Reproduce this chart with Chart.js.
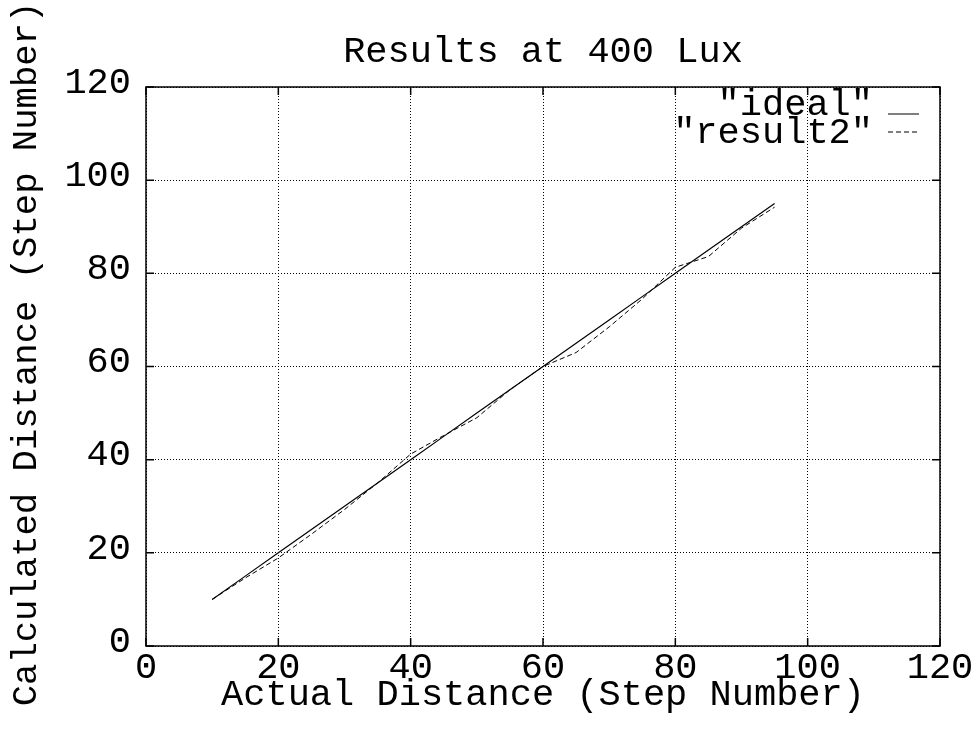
<!DOCTYPE html>
<html>
<head>
<meta charset="utf-8">
<script src="https://cdn.jsdelivr.net/npm/chart.js@4/dist/chart.umd.min.js"></script>
<style>
  html, body { margin: 0; padding: 0; background: #ffffff; }
  #wrap { width: 975px; height: 738px; }
</style>
</head>
<body>
<div id="wrap"><canvas id="c" width="975" height="738"></canvas></div>
<script>
// Step positions at which the distance was measured
const steps = [10, 15, 20, 25, 30, 35, 40, 45, 50, 55, 60, 65, 70, 75, 80, 85, 90, 95];
// Ideal calculated distance (equal to the actual distance)
const idealValues = [10, 15, 20, 25, 30, 35, 40, 45, 50, 55, 60, 65, 70, 75, 80, 85, 90, 95];
// Calculated distance from run 2
const result2Values = [10, 14.6, 18.9, 24, 29.3, 35, 41.2, 45.2, 49, 55, 60, 63, 68.5, 74.5, 81.3, 83.6, 89.7, 94.2];
// Axis tick values
const xTicks = [0, 20, 40, 60, 80, 100, 120];
const yTicks = [0, 20, 40, 60, 80, 100, 120];

const chartTitle = 'Results at 400 Lux';
const xTitle = 'Actual Distance (Step Number)';
const yTitle = 'Calculated Distance (Step Number)';
const seriesLabels = ['"ideal"', '"result2"'];

const FONT = '"Liberation Mono", "Courier New", monospace';
const FONT_SIZE = 37;

const toPoints = (xs, ys) => xs.map((x, i) => ({ x: x, y: ys[i] }));

// Frame, inward tick marks, titles and the key
const decorations = {
  id: 'decorations',
  afterDraw(chart) {
    const ctx = chart.ctx;
    const a = chart.chartArea;
    const xs = chart.scales.x, ys = chart.scales.y;
    ctx.save();
    ctx.strokeStyle = '#000';
    ctx.lineWidth = 1.5;
    ctx.strokeRect(a.left, a.top, a.right - a.left, a.bottom - a.top);

    const tl = 8;
    ctx.beginPath();
    xTicks.forEach(v => {
      const px = xs.getPixelForValue(v);
      ctx.moveTo(px, a.bottom); ctx.lineTo(px, a.bottom - tl);
      ctx.moveTo(px, a.top); ctx.lineTo(px, a.top + tl);
    });
    yTicks.forEach(v => {
      const py = ys.getPixelForValue(v);
      ctx.moveTo(a.left, py); ctx.lineTo(a.left + tl, py);
      ctx.moveTo(a.right, py); ctx.lineTo(a.right - tl, py);
    });
    ctx.stroke();

    ctx.fillStyle = '#000';
    ctx.font = FONT_SIZE + 'px ' + FONT;
    ctx.textBaseline = 'alphabetic';
    ctx.textAlign = 'center';
    const cx = (a.left + a.right) / 2;
    ctx.fillText(chartTitle, cx, 62);
    ctx.fillText(xTitle, cx, 705);

    ctx.save();
    ctx.font = '35.6px ' + FONT;
    ctx.translate(36, 354);
    ctx.rotate(-Math.PI / 2);
    ctx.fillText(yTitle, 0, 0);
    ctx.restore();

    // key: right-aligned labels followed by a line sample
    const textRight = a.right - 67;
    const rows = [
      { textY: 115, lineY: 114 },
      { textY: 143, lineY: 132 }
    ];
    chart.data.datasets.forEach((ds, i) => {
      const r = rows[i];
      ctx.textAlign = 'right';
      ctx.fillText(ds.label, textRight, r.textY);
      ctx.save();
      ctx.strokeStyle = ds.borderColor;
      ctx.lineWidth = 1;
      ctx.setLineDash(ds.borderDash || []);
      ctx.beginPath();
      ctx.moveTo(textRight + 15, r.lineY);
      ctx.lineTo(textRight + 46, r.lineY);
      ctx.stroke();
      ctx.restore();
    });
    ctx.restore();
  }
};

new Chart(document.getElementById('c'), {
  type: 'line',
  data: {
    datasets: [
      {
        label: seriesLabels[0],
        data: toPoints(steps, idealValues),
        borderColor: '#000',
        borderWidth: 1.2,
        pointRadius: 0,
        tension: 0,
        fill: false
      },
      {
        label: seriesLabels[1],
        data: toPoints(steps, result2Values),
        borderColor: '#000',
        borderWidth: 1,
        borderDash: [5, 3],
        pointRadius: 0,
        tension: 0,
        fill: false
      }
    ]
  },
  options: {
    responsive: false,
    animation: false,
    devicePixelRatio: 1,
    layout: { padding: { top: 87, right: 35, left: 0, bottom: 0 } },
    plugins: {
      legend: { display: false },
      title: { display: false },
      tooltip: { enabled: false }
    },
    scales: {
      x: {
        type: 'linear',
        min: 0,
        max: 120,
        afterFit(s) { s.height = 92; },
        afterBuildTicks(s) { s.ticks = xTicks.map(v => ({ value: v })); },
        ticks: {
          color: '#000',
          font: { family: FONT, size: FONT_SIZE, lineHeight: 1.2 },
          padding: 0,
          maxRotation: 0,
          autoSkip: false
        },
        grid: { color: '#000', lineWidth: 1, drawTicks: false },
        border: { display: false, dash: [1, 2] }
      },
      y: {
        type: 'linear',
        min: 0,
        max: 120,
        afterFit(s) { s.width = 146; },
        afterBuildTicks(s) { s.ticks = yTicks.map(v => ({ value: v })); },
        ticks: {
          color: '#000',
          font: { family: FONT, size: FONT_SIZE, lineHeight: 1.2 },
          padding: 15,
          labelOffset: -4,
          autoSkip: false
        },
        grid: { color: '#000', lineWidth: 1, drawTicks: false },
        border: { display: false, dash: [1, 2] }
      }
    }
  },
  plugins: [decorations]
});
</script>
</body>
</html>
